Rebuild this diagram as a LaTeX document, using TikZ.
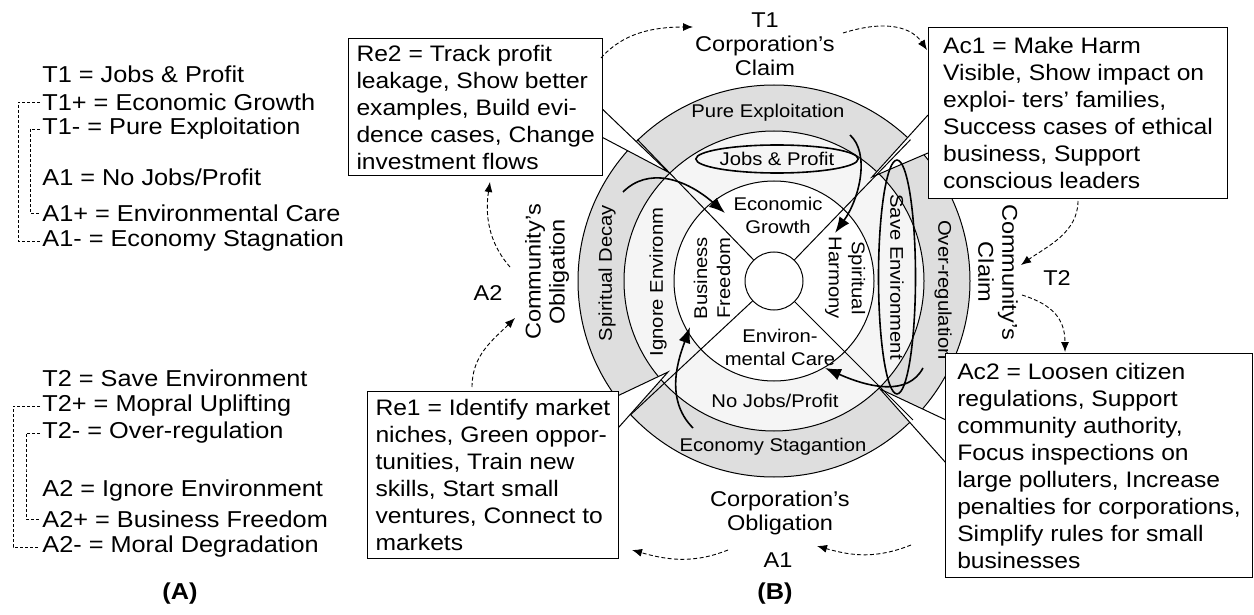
\documentclass[tikz,border=0pt]{standalone}
\usepackage{fontspec}
\setmainfont{Liberation Sans}[FakeStretch=1.1]
\usetikzlibrary{arrows.meta,shapes.geometric,calc}
\begin{document}
\begin{tikzpicture}[x=0.5pt,y=-0.5pt,
  big/.style={font=\fontsize{11.2}{13.5}\selectfont},
  lbl/.style={font=\fontsize{10.7}{12}\selectfont, align=center, inner sep=0pt},
  rl/.style={font=\fontsize{9.2}{11.5}\selectfont, align=center, inner sep=0pt},
  leg/.style={font=\fontsize{11.5}{13.5}\selectfont, anchor=west, inner sep=1pt},
  brk/.style={dash pattern=on 1.5pt off 1pt, line width=0.4pt},
  ringc/.style={circle, draw, line width=0.5pt, inner sep=0pt},
  wedgefill/.style={fill=white},
  cb/.style={draw, fill=white, line width=0.5pt, big, align=left, anchor=north west, inner xsep=4pt, inner ysep=2pt},
  da/.style={dash pattern=on 2pt off 1.2pt, line width=0.45pt, -{Latex[length=5pt,width=4pt]}},
  sa/.style={line width=0.8pt, -{Latex[length=8pt,width=6pt]}},
  ell/.style={ellipse, draw, line width=0.8pt, inner sep=0pt, rl}
]
\useasboundingbox (0,0) rectangle (1254,615);

% ---------- legend (A) ----------
\node[leg] (t1)  at (40,74)  {T1 = Jobs \& Profit};
\node[leg] (t1p) at (40,102) {T1+ = Economic Growth};
\node[leg] (t1m) at (40,129) {T1- = Pure Exploitation};
\node[leg] (a1)  at (40,177) {A1 = No Jobs/Profit};
\node[leg] (a1p) at (40,213) {A1+ = Environmental Care};
\node[leg] (a1m) at (40,241) {A1- = Economy Stagnation};
\coordinate (xo1) at (18,170);
\coordinate (xi1) at (30,170);
\draw[brk] (t1p.west) -| (xo1) |- (a1m.west);
\draw[brk] (t1m.west) -| (xi1) |- (a1p.west);

\node[leg] (t2)  at (40,378) {T2 = Save Environment};
\node[leg] (t2p) at (40,406) {T2+ = Mopral Uplifting};
\node[leg] (t2m) at (40,433) {T2- = Over-regulation};
\node[leg] (a2)  at (40,491) {A2 = Ignore Environment};
\node[leg] (a2p) at (40,519) {A2+ = Business Freedom};
\node[leg] (a2m) at (40,547) {A2- = Moral Degradation};
\coordinate (xo2) at (13,470);
\coordinate (xi2) at (26,470);
\draw[brk] (t2p.west) -| (xo2) |- (a2m.west);
\draw[brk] (t2m.west) -| (xi2) |- (a2p.west);

\node[font=\fontsize{11.5}{13.5}\selectfont\bfseries] (capA) at (180,594) {(A)};
\node[font=\fontsize{11.5}{13.5}\selectfont\bfseries] (capB) at (775,594) {(B)};

% ---------- rings ----------
\node[ringc, fill=black!13, minimum size=196pt] (oc) at (774,281) {};
\node[ringc, fill=black!4, minimum size=150pt] (mc) at (774,281) {};
\node[ringc, fill=white, minimum size=100pt] (ic) at (774,281) {};
\node[ringc, fill=white, minimum size=29pt] (cc) at (774,281) {};

% ---------- callout wedges ----------
\coordinate (w1a) at (596,103); \coordinate (w1b) at (596,134); \coordinate (w1t) at (668,172);
\coordinate (w2a) at (928,115); \coordinate (w2b) at (928,153); \coordinate (w2t) at (872,177);
\coordinate (w3a) at (611,399); \coordinate (w3b) at (611,436); \coordinate (w3t) at (668,372);
\coordinate (w4a) at (946,420); \coordinate (w4b) at (946,463); \coordinate (w4t) at (880,389);
\fill[wedgefill] (w1a) -- (w1t) -- (w1b) -- cycle;
\fill[wedgefill] (w2a) -- (w2t) -- (w2b) -- cycle;
\fill[wedgefill] (w3a) -- (w3t) -- (w3b) -- cycle;
\fill[wedgefill] (w4a) -- (w4t) -- (w4b) -- cycle;
\draw[line width=0.5pt] (w1a) -- (w1t) -- (w1b);
\draw[line width=0.5pt] (w2a) -- (w2t) -- (w2b);
\draw[line width=0.5pt] (w3a) -- (w3t) -- (w3b);
\draw[line width=0.5pt] (w4a) -- (w4t) -- (w4b);

% ---------- diagonals ----------
\draw[line width=0.5pt] (cc.134) -- (oc.134);
\draw[line width=0.5pt] (cc.46) -- (oc.46);
\draw[line width=0.5pt] (cc.223) -- (oc.223);
\draw[line width=0.5pt] (cc.315) -- (oc.315);

% ---------- ring labels ----------
\node[rl] (pe) at (768,113) {Pure Exploitation};
\node[ell, minimum width=70pt, minimum height=14pt] (jp) at (777,159) {Jobs \& Profit};
\node[rl] (eg) at (778,215) {Economic\\Growth};
\node[rl, rotate=90] (bf) at (712,278) {Business\\Freedom};
\node[rl, rotate=-90] (sh) at (845,278) {Spiritual\\Harmony};
\node[rl] (ec) at (780,347) {Environ-\\mental Care};
\node[rl] (nj) at (775,401) {No Jobs/Profit};
\node[rl] (es) at (773,447) {Economy Stagantion};
\node[rl, rotate=90] (sd) at (607,273) {Spiritual Decay};
\node[rl, rotate=90] (ie) at (658,282) {Ignore Environm};
\node[ell, rotate=-90, minimum width=95pt, minimum height=18.5pt] (se) at (897,277) {Save Environment};
\node[rl, rotate=-90] (or) at (943,290) {Over-regulation};

% ---------- outer labels ----------
\node[lbl] (t1l) at (765,44) {T1\\Corporation's\\Claim};
\node[lbl, rotate=-90] (ccl) at (998,272) {Community's\\Claim};
\node[lbl] (t2l) at (1057,278) {T2};
\node[lbl, rotate=90] (col) at (547,272) {Community's\\Obligation};
\node[lbl] (a2l) at (488,293) {A2};
\node[lbl] (cob) at (780,513) {Corporation's\\Obligation};
\node[lbl] (a1l) at (778,560) {A1};

% ---------- solid curved arrows ----------
\coordinate (s1) at (623,192); \coordinate (e1) at (725,213);
\coordinate (s2) at (850,135); \coordinate (e2) at (835,233);
\coordinate (s3) at (923,368); \coordinate (e3) at (825,368);
\coordinate (s4) at (693,428); \coordinate (e4) at (690,327);
\draw[sa] (s1) .. controls +(25,-25) and +(-40,-35) .. (e1);
\draw[sa] (s2) .. controls +(20,18) and +(25,-35) .. (e2);
\draw[sa] (s3) .. controls +(-15,28) and +(45,20) .. (e3);
\draw[sa] (s4) .. controls +(-30,-30) and +(-10,28) .. (e4);

% ---------- boxes ----------
\node[cb, minimum width=124pt, minimum height=68.5pt] (re2) at (348,38)
  {Re2 = Track profit\\leakage, Show better\\examples, Build evi-\\dence cases, Change\\investment flows};
\node[cb, minimum width=149.5pt, minimum height=85.5pt] (ac1) at (928,27)
  {Ac1 = Make Harm\\Visible, Show impact on\\exploi- ters' families,\\Success cases of ethical\\business, Support\\conscious leaders};
\node[cb, minimum width=122pt, minimum height=83.5pt] (re1) at (367,391)
  {Re1 = Identify market\\niches, Green oppor-\\tunities, Train new\\skills, Start small\\ventures, Connect to\\markets};
\node[cb, minimum width=153.5pt, minimum height=112pt] (ac2) at (945,353)
  {Ac2 = Loosen citizen\\regulations, Support\\community authority,\\Focus inspections on\\large polluters, Increase\\penalties for corporations,\\Simplify rules for small\\businesses};

% ---------- dashed arrows ----------
\coordinate (d1s) at (601,58);   \coordinate (d1e) at (693,27);
\coordinate (d2s) at (843,33);   \coordinate (d2e) at (927,50);
\coordinate (d3s) at (1078,201); \coordinate (d3e) at (1021,265);
\coordinate (d4s) at (1022,295); \coordinate (d4e) at (1065,352);
\coordinate (d5s) at (911,545);  \coordinate (d5e) at (817,546);
\coordinate (d6s) at (728,550);  \coordinate (d6e) at (632,550);
\coordinate (d7s) at (472,387);  \coordinate (d7e) at (515,318);
\coordinate (d8s) at (510,267);  \coordinate (d8e) at (490,182);
\draw[da] (d1s) .. controls +(22,-25) and +(-40,0) .. (d1e);
\draw[da] (d2s) .. controls +(45,-14) and +(-15,-22) .. (d2e);
\draw[da] (d3s) .. controls +(0,32) and +(25,-18) .. (d3e);
\draw[da] (d4s) .. controls +(32,10) and +(0,-32) .. (d4e);
\draw[da] (d5s) .. controls +(-35,14) and +(35,10) .. (d5e);
\draw[da] (d6s) .. controls +(-35,14) and +(35,10) .. (d6e);
\draw[da] (d7s) .. controls +(0,-32) and +(-22,22) .. (d7e);
\draw[da] (d8s) .. controls +(-22,-25) and +(-5,32) .. (d8e);
\end{tikzpicture}
\end{document}
